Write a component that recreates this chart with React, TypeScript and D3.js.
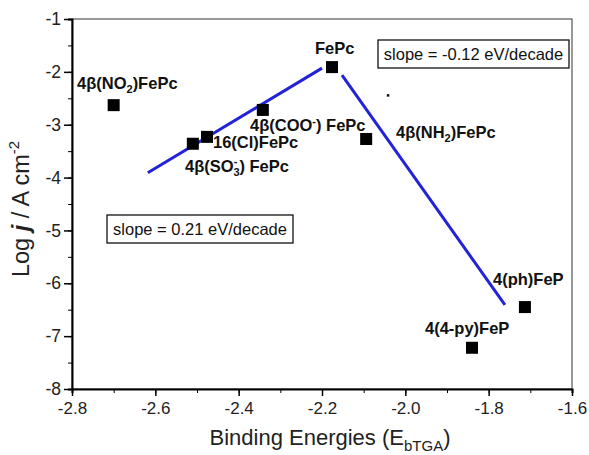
import { useEffect, useRef } from 'react';
import * as d3 from 'd3';

// binding energy (x) / log j (y) of each catalyst
const names = ['4β(NO2)FePc', '4β(SO3-) FePc', '16(Cl)FePc', '4β(COO-) FePc', 'FePc', '4β(NH2)FePc', '4(ph)FeP', '4(4-py)FeP'];
const energies = [-2.70, -2.51, -2.476, -2.342, -2.176, -2.094, -1.713, -1.84];
const logJ = [-2.63, -3.36, -3.23, -2.72, -1.91, -3.27, -6.45, -7.22];

// the two fitted lines
const fitLeftX = [-2.618, -2.2];
const fitLeftY = [-3.91, -1.93];
const fitRightX = [-2.152, -1.761];
const fitRightY = [-2.06, -6.41];

const xTicks = [-2.8, -2.6, -2.4, -2.2, -2.0, -1.8, -1.6];
const yTicks = [-8, -7, -6, -5, -4, -3, -2, -1];

function App() {
  const ref = useRef<SVGSVGElement>(null);

  useEffect(() => {
    draw();
    // eslint-disable-next-line
  }, []);

  function draw() {
    const config = { left: 72, right: 572, top: 19, bottom: 389 };
    const svg = d3.select(ref.current);
    svg.selectAll('*').remove();

    const xScale = d3.scaleLinear().domain([-2.8, -1.6]).range([config.left, config.right]);
    const yScale = d3.scaleLinear().domain([-8, -1]).range([config.bottom, config.top]);
    const font = '"Liberation Sans", Arial, sans-serif';

    // frame
    svg.append('rect')
      .attr('x', config.left).attr('y', config.top)
      .attr('width', config.right - config.left).attr('height', config.bottom - config.top)
      .attr('fill', 'none').attr('stroke', '#333').attr('stroke-width', 1);

    // x axis
    const xMinor = d3.range(-2.8, -1.55, 0.1);
    const xAxis = d3.axisBottom(xScale).tickValues(xMinor).tickSize(4).tickFormat(() => '');
    svg.append('g').attr('transform', `translate(0,${config.bottom})`).call(xAxis)
      .call(g => g.select('.domain').attr('stroke-width', 2));
    const xMajor = d3.axisBottom(xScale).tickValues(xTicks).tickSize(7).tickPadding(6)
      .tickFormat(d => (d as number).toFixed(1));
    svg.append('g').attr('transform', `translate(0,${config.bottom})`).call(xMajor)
      .call(g => g.select('.domain').remove())
      .call(g => g.selectAll('line').attr('stroke-width', 1.5))
      .call(g => g.selectAll('text').attr('font-size', 17).attr('font-family', font).attr('fill', '#222'));

    // y axis
    const yMinor = d3.range(-8, -0.9, 0.5);
    const yAxis = d3.axisLeft(yScale).tickValues(yMinor).tickSize(4).tickFormat(() => '');
    svg.append('g').attr('transform', `translate(${config.left},0)`).call(yAxis)
      .call(g => g.select('.domain').attr('stroke-width', 2));
    const yMajor = d3.axisLeft(yScale).tickValues(yTicks).tickSize(8).tickPadding(3)
      .tickFormat(d => String(d));
    svg.append('g').attr('transform', `translate(${config.left},0)`).call(yMajor)
      .call(g => g.select('.domain').remove())
      .call(g => g.selectAll('line').attr('stroke-width', 1.5))
      .call(g => g.selectAll('text').attr('font-size', 17.5).attr('font-family', font).attr('fill', '#222'));

    // fit lines
    [[fitLeftX, fitLeftY], [fitRightX, fitRightY]].forEach(([xs, ys]) => {
      const pts = xs.map((x, i) => [xScale(x), yScale(ys[i])] as [number, number]);
      svg.append('path')
        .attr('d', d3.line()(pts) as string)
        .attr('fill', 'none').attr('stroke', '#2222d8').attr('stroke-width', 3);
    });

    // points
    svg.append('g').selectAll('rect').data(energies).join('rect')
      .attr('x', d => xScale(d) - 6)
      .attr('y', (d, i) => yScale(logJ[i]) - 6)
      .attr('width', 12).attr('height', 12)
      .attr('fill', '#000');

    // stray dot in the original
    svg.append('rect').attr('x', xScale(-2.042) - 1).attr('y', yScale(-2.44) - 1)
      .attr('width', 2.5).attr('height', 2.5).attr('fill', '#111');

    // point labels
    const labels = [
      { i: 0, x: 77, y: 89 },
      { i: 1, x: 185, y: 172 },
      { i: 2, x: 213, y: 148 },
      { i: 3, x: 250, y: 131 },
      { i: 4, x: 315, y: 54 },
      { i: 5, x: 396, y: 138 },
      { i: 6, x: 493, y: 285 },
      { i: 7, x: 425, y: 334 }
    ];
    labels.forEach(l => {
      const t = svg.append('text').attr('x', l.x).attr('y', l.y)
        .attr('font-family', font).attr('font-weight', 'bold').attr('font-size', 16.5).attr('fill', '#111');
      const name = names[l.i];
      if (name === '4β(NO2)FePc' || name === '4β(NH2)FePc') {
        t.append('tspan').text(name.slice(0, name.indexOf('2')));
        t.append('tspan').attr('dy', 4).attr('font-size', 11).text('2');
        t.append('tspan').attr('dy', -4).text(name.slice(name.indexOf('2') + 1));
      } else if (name === '4β(SO3-) FePc') {
        t.append('tspan').text('4β(SO');
        t.append('tspan').attr('dy', 4).attr('font-size', 11).text('3');
        t.append('tspan').attr('dx', -6).attr('dy', -11).attr('font-size', 11).text('-');
        t.append('tspan').attr('dx', 2).attr('dy', 7).text(') FePc');
      } else if (name === '4β(COO-) FePc') {
        t.append('tspan').text('4β(COO');
        t.append('tspan').attr('dy', -6).attr('font-size', 11).text('-');
        t.append('tspan').attr('dy', 6).text(') FePc');
      } else {
        t.text(name);
      }
    });

    // slope boxes
    const boxes = [
      { text: 'slope = -0.12 eV/decade', x: 378, y: 40, w: 191, h: 28 },
      { text: 'slope = 0.21 eV/decade', x: 107, y: 215, w: 186, h: 28 }
    ];
    boxes.forEach(b => {
      svg.append('rect').attr('x', b.x).attr('y', b.y).attr('width', b.w).attr('height', b.h)
        .attr('fill', '#fff').attr('stroke', '#111').attr('stroke-width', 1.3);
      svg.append('text').attr('x', b.x + b.w / 2).attr('y', b.y + b.h / 2 + 6)
        .attr('text-anchor', 'middle').attr('font-family', font).attr('font-size', 16.5).attr('fill', '#111')
        .text(b.text);
    });

    // axis titles
    const xt = svg.append('text').attr('x', 330).attr('y', 445).attr('text-anchor', 'middle')
      .attr('font-family', font).attr('font-size', 22).attr('fill', '#222');
    xt.append('tspan').text('Binding Energies (E');
    xt.append('tspan').attr('dy', 6).attr('font-size', 15).text('bTGA');
    xt.append('tspan').attr('dy', -6).text(')');

    const yt = svg.append('text').attr('transform', 'translate(29,209) rotate(-90)').attr('text-anchor', 'middle')
      .attr('font-family', font).attr('font-size', 23.5).attr('fill', '#222');
    yt.append('tspan').text('Log ');
    yt.append('tspan').attr('font-weight', 'bold').attr('font-style', 'italic').text('j');
    yt.append('tspan').text(' / A cm');
    yt.append('tspan').attr('dy', -10).attr('font-size', 15).text('-2');
  }

  return (
    <div style={{ position: 'absolute', left: 0, top: 0 }}>
      <svg ref={ref} width={589} height={455} style={{ display: 'block', background: '#fff' }}></svg>
    </div>
  );
}

export default App;
